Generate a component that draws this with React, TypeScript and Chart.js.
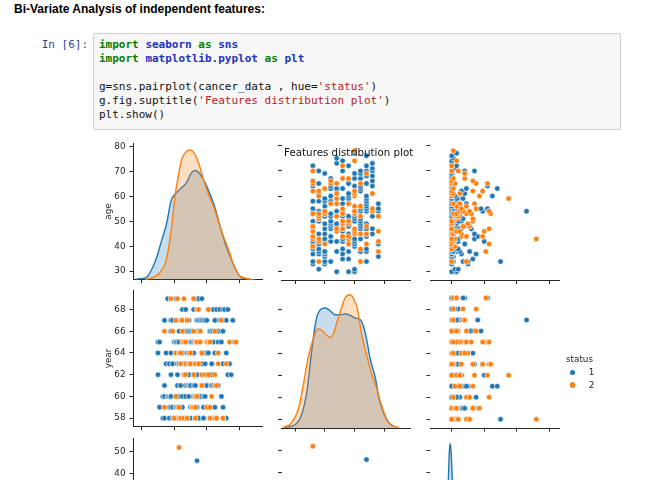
import React, { useEffect, useRef } from "react";
import { Chart, registerables } from "chart.js";

Chart.register(...registerables);
Chart.defaults.font.family = '"DejaVu Sans", sans-serif';

// ---------------- data (one entry per patient) ----------------
const age = [
  30, 30, 30,
  31, 31,
  33, 33,
  34, 34, 34, 34, 34, 34, 34,
  35, 35,
  36, 36,
  37, 37, 37, 37, 37, 37,
  38, 38, 38, 38, 38, 38, 38, 38, 38, 38,
  39, 39, 39, 39, 39, 39,
  40, 40, 40,
  41, 41, 41, 41, 41, 41, 41, 41, 41, 41,
  42, 42, 42, 42, 42, 42, 42, 42, 42,
  43, 43, 43, 43, 43, 43, 43, 43, 43, 43, 43,
  44, 44, 44, 44, 44, 44, 44,
  45, 45, 45, 45, 45, 45, 45, 45, 45,
  46, 46, 46, 46, 46, 46, 46,
  47, 47, 47, 47, 47, 47, 47, 47, 47, 47, 47,
  48, 48, 48, 48, 48, 48, 48,
  49, 49, 49, 49, 49, 49, 49, 49, 49, 49,
  50, 50, 50, 50, 50, 50, 50, 50, 50, 50, 50, 50,
  51, 51, 51, 51, 51, 51,
  52, 52, 52, 52, 52, 52, 52, 52, 52, 52, 52, 52, 52, 52,
  53, 53, 53, 53, 53, 53, 53, 53, 53, 53, 53,
  54, 54, 54, 54, 54, 54, 54, 54, 54, 54, 54, 54, 54,
  55, 55, 55, 55, 55, 55, 55, 55, 55, 55,
  56, 56, 56, 56, 56, 56, 56,
  57, 57, 57, 57, 57, 57, 57, 57, 57, 57, 57,
  58, 58, 58, 58, 58, 58, 58,
  59, 59, 59, 59, 59, 59, 59, 59,
  60, 60, 60, 60, 60, 60,
  61, 61, 61, 61, 61, 61, 61, 61, 61,
  62, 62, 62, 62, 62, 62, 62,
  63, 63, 63, 63, 63, 63, 63, 63,
  64, 64, 64, 64, 64,
  65, 65, 65, 65, 65, 65, 65, 65, 65, 65,
  66, 66, 66, 66, 66,
  67, 67, 67, 67, 67, 67,
  68, 68,
  69, 69, 69, 69,
  70, 70, 70, 70, 70, 70, 70,
  71,
  72, 72, 72, 72,
  73, 73,
  74, 74,
  75,
  76,
  77,
  78,
];

const year = [
  64, 62, 65,
  59, 65,
  58, 60,
  59, 66, 58, 60, 61, 67, 60,
  64, 63,
  60, 69,
  60, 63, 58, 59, 60, 63,
  69, 59, 60, 60, 62, 64, 66, 66, 60, 67,
  66, 63, 67, 58, 59, 63,
  58, 58, 65,
  60, 64, 67, 58, 59, 59, 64, 69, 65, 65,
  69, 59, 58, 60, 59, 61, 62, 65, 63,
  58, 59, 64, 64, 63, 64, 64, 60, 63, 65, 66,
  64, 58, 63, 61, 63, 61, 67,
  65, 66, 67, 60, 67, 59, 64, 68, 67,
  58, 69, 62, 65, 62, 58, 63,
  63, 62, 65, 61, 63, 66, 67, 58, 60, 68, 66,
  58, 58, 67, 61, 62, 64, 66,
  63, 64, 61, 62, 66, 60, 62, 63, 61, 67,
  63, 64, 59, 61, 61, 63, 58, 59, 61, 64, 65, 66,
  59, 59, 64, 59, 65, 66,
  69, 59, 62, 66, 61, 63, 69, 60, 60, 62, 62, 64, 65, 68,
  58, 65, 59, 60, 63, 65, 58, 60, 60, 61, 63,
  60, 65, 65, 68, 59, 60, 66, 67, 62, 69, 63, 58, 62,
  63, 68, 58, 58, 58, 66, 66, 69, 69, 67,
  65, 66, 60, 66, 66, 67, 60,
  61, 62, 64, 64, 69, 61, 62, 63, 64, 64, 67,
  59, 60, 61, 67, 58, 58, 61,
  62, 60, 63, 64, 64, 64, 64, 67,
  59, 65, 61, 67, 61, 64,
  62, 65, 68, 59, 59, 64, 65, 68, 59,
  59, 58, 65, 62, 66, 66, 58,
  60, 61, 62, 63, 63, 66, 61, 61,
  58, 65, 66, 61, 68,
  58, 61, 62, 66, 58, 64, 67, 59, 64, 67,
  58, 61, 58, 58, 68,
  64, 63, 66, 66, 61, 65,
  67, 68,
  67, 60, 65, 66,
  58, 58, 66, 67, 68, 59, 63,
  68,
  63, 58, 64, 67,
  62, 68,
  65, 63,
  62,
  67,
  65,
  65,
];

const nodes = [
  1, 3, 0,
  2, 4,
  10, 0,
  0, 9, 30, 1, 10, 7, 0,
  13, 0,
  1, 0,
  0, 0, 0, 6, 15, 0,
  21, 2, 0, 0, 3, 1, 0, 11, 1, 5,
  0, 0, 0, 0, 2, 4,
  2, 0, 0,
  23, 0, 0, 0, 8, 0, 0, 8, 0, 0,
  1, 0, 0, 1, 2, 4, 20, 0, 1,
  52, 2, 0, 0, 14, 2, 3, 0, 2, 0, 4,
  6, 9, 19, 0, 1, 0, 16,
  6, 0, 1, 0, 0, 14, 0, 0, 1,
  2, 3, 5, 20, 0, 3, 0,
  23, 0, 0, 0, 6, 0, 0, 3, 4, 4, 12,
  11, 11, 7, 8, 2, 0, 0,
  0, 10, 1, 0, 0, 1, 1, 3, 0, 1,
  13, 0, 0, 6, 0, 1, 1, 2, 0, 0, 4, 1,
  13, 3, 7, 1, 0, 1,
  3, 2, 3, 4, 0, 4, 0, 4, 5, 0, 1, 0, 0, 0,
  4, 1, 3, 9, 24, 12, 1, 1, 2, 1, 0,
  11, 23, 5, 7, 7, 3, 0, 46, 0, 7, 19, 1, 0,
  6, 15, 1, 0, 1, 18, 0, 3, 22, 1,
  9, 3, 0, 2, 1, 0, 0,
  5, 14, 1, 9, 0, 0, 0, 0, 0, 0, 0,
  0, 3, 1, 0, 0, 3, 2,
  35, 0, 0, 1, 4, 0, 7, 3,
  17, 0, 1, 2, 25, 0,
  5, 0, 1, 0, 0, 0, 8, 0, 0,
  13, 0, 19, 6, 0, 0, 0,
  1, 0, 0, 0, 0, 0, 9, 28,
  0, 22, 0, 0, 0,
  0, 2, 22, 15, 0, 0, 0, 2, 0, 1,
  0, 13, 0, 1, 0,
  8, 1, 0, 0, 0, 0,
  0, 0,
  8, 0, 0, 0,
  0, 4, 14, 0, 0, 8, 0,
  2,
  0, 0, 0, 3,
  0, 0,
  3, 0,
  1,
  0,
  3,
  1,
];

const status = [
  1, 1, 1,
  1, 1,
  1, 1,
  2, 2, 1, 1, 1, 1, 1,
  1, 1,
  1, 1,
  1, 1, 1, 1, 1, 1,
  2, 1, 1, 1, 1, 1, 1, 1, 1, 1,
  2, 1, 1, 1, 1, 1,
  2, 1, 1,
  2, 2, 2, 1, 1, 1, 1, 1, 1, 1,
  2, 2, 1, 1, 1, 1, 1, 1, 1,
  2, 2, 2, 2, 1, 1, 1, 1, 1, 1, 1,
  2, 2, 2, 1, 1, 1, 1,
  2, 2, 2, 1, 1, 1, 1, 1, 1,
  2, 2, 2, 2, 1, 1, 1,
  2, 2, 2, 1, 1, 1, 1, 1, 1, 1, 1,
  2, 2, 2, 1, 1, 1, 1,
  2, 2, 1, 1, 1, 1, 1, 1, 1, 1,
  2, 2, 1, 1, 1, 1, 1, 1, 1, 1, 1, 1,
  2, 2, 1, 1, 1, 1,
  2, 2, 2, 2, 1, 1, 1, 1, 1, 1, 1, 1, 1, 1,
  2, 2, 2, 2, 2, 2, 1, 1, 1, 1, 1,
  2, 2, 2, 2, 1, 1, 1, 1, 1, 1, 1, 1, 1,
  2, 2, 1, 1, 1, 1, 1, 1, 1, 1,
  2, 2, 1, 1, 1, 1, 1,
  2, 2, 2, 1, 1, 1, 1, 1, 1, 1, 1,
  1, 1, 1, 1, 1, 1, 1,
  2, 1, 1, 1, 1, 1, 1, 1,
  2, 2, 1, 1, 1, 1,
  2, 2, 2, 1, 1, 1, 1, 1, 1,
  2, 2, 2, 1, 1, 1, 1,
  2, 1, 1, 1, 1, 1, 1, 1,
  1, 1, 1, 1, 1,
  2, 2, 2, 2, 1, 1, 1, 1, 1, 1,
  2, 2, 1, 1, 1,
  2, 2, 1, 1, 1, 1,
  1, 1,
  2, 1, 1, 1,
  2, 2, 1, 1, 1, 1, 1,
  1,
  2, 1, 1, 1,
  1, 1,
  2, 1,
  1,
  1,
  1,
  2,
];

const statusLevels = [1, 2];
const featureNames = ["age", "year", "nodes"];

// tick values
const ageTicksX = [20, 40, 60, 80];
const ageTicksY = [30, 40, 50, 60, 70, 80];
const yearTicksX = [55, 60, 65, 70];
const yearTicksY = [58, 60, 62, 64, 66, 68];
const nodesTicksX = [0, 20, 40, 60];
const nodesTicksY = [0, 10, 20, 30, 40, 50];

// density curves (status 1 = blue, status 2 = orange)
const ageDensityX1 = [16.5, 17.5, 21, 23.5, 25, 29, 32, 35.5, 38, 40.5, 44.5, 47.5, 50.5, 53, 56, 59, 62, 65, 68, 71, 74.5, 77.5, 80.5, 84.5, 86];
const ageDensity1 = [0, 0.0002, 0.0003, 0.0008, 0.0017, 0.0054, 0.0096, 0.0146, 0.02, 0.0217, 0.0233, 0.0246, 0.0271, 0.0277, 0.0267, 0.0246, 0.0217, 0.0183, 0.0138, 0.0096, 0.0058, 0.0029, 0.0008, 0.0002, 0];
const ageDensityX2 = [22, 27, 31, 34.5, 36.5, 38.5, 40.5, 42.5, 44.5, 47.5, 49.5, 52, 55, 58, 61, 64, 67, 70, 73.5, 76.5, 79.5, 84.5, 89.5];
const ageDensity2 = [0, 0.0006, 0.0017, 0.0042, 0.0079, 0.0138, 0.0213, 0.0263, 0.0304, 0.0325, 0.0329, 0.0323, 0.0296, 0.0254, 0.0217, 0.0188, 0.015, 0.0113, 0.0075, 0.0038, 0.0013, 0.0003, 0];

const yearDensityX1 = [53.3, 55, 56.1, 57, 57.8, 58.4, 58.9, 60.1, 60.9, 61.7, 62.6, 63.4, 64.3, 65.1, 66, 66.5, 67.1, 67.6, 68.5, 69.1, 70, 70.8, 71.9];
const yearDensity1 = [0.0007, 0.0033, 0.0133, 0.0367, 0.0767, 0.1033, 0.115, 0.12, 0.1173, 0.1133, 0.1133, 0.114, 0.1127, 0.11, 0.1083, 0.1017, 0.0867, 0.07, 0.05, 0.03, 0.0133, 0.005, 0.0007];
const yearDensityX2 = [53, 54.4, 55.6, 56.4, 57.2, 58.1, 58.8, 59.5, 60.3, 60.9, 61.5, 62, 62.7, 63.4, 64.2, 64.8, 65.5, 66.2, 67.1, 67.9, 68.8, 69.4, 70.2, 71.1, 72.5];
const yearDensity2 = [0.0007, 0.005, 0.02, 0.0433, 0.07, 0.09, 0.099, 0.0977, 0.0927, 0.0907, 0.095, 0.105, 0.1183, 0.13, 0.1333, 0.13, 0.1183, 0.0933, 0.0717, 0.0533, 0.0383, 0.025, 0.0117, 0.0033, 0.0007];

const nodesDensityX1 = [-9, -6, -5, -4, -3, -2.1, -1.5, -0.9, -0.3, 0.4, 1.3, 2.3, 3.5, 5, 7, 10, 15, 20, 30, 46, 55, 62];
const nodesDensity1 = [0, 0.004, 0.016, 0.044, 0.09, 0.136, 0.176, 0.191, 0.176, 0.136, 0.09, 0.06, 0.04, 0.026, 0.016, 0.01, 0.006, 0.004, 0.0016, 0.0008, 0.0002, 0];
const nodesDensityX2 = [-12, -6, -3, 0, 2, 5, 10, 15, 20, 25, 35, 45, 55, 64];
const nodesDensity2 = [0, 0.01, 0.03, 0.048, 0.05, 0.04, 0.024, 0.016, 0.012, 0.008, 0.003, 0.002, 0.0012, 0];

// ---------------- styling / layout ----------------
const BLUE = "#1f77b4";
const ORANGE = "#ff7f0e";
const BLUE_FILL = "rgba(31,119,180,0.25)";
const ORANGE_FILL = "rgba(255,127,14,0.25)";
const INK = "#262626";
const TICK_FONT_SIZE = 8.8;

const colLeft = [133, 281.5, 430];
const colWidth = 129;
const rowTop = [142, 289.5, 437];
const rowHeight = 138.5;
const xRange = [[14.65, 93.95], [52.73, 74.4], [-13.34, 65.95]];
const yRange = [[26.5, 81.47], [57.21, 69.77], [-5.96, 56.14]];
const densityMax = [0.0346, 0.1385, 0.2];
const yTitleCenterX = 109;

const features = [age, year, nodes];
const ticksX = [ageTicksX, yearTicksX, nodesTicksX];
const ticksY = [ageTicksY, yearTicksY, nodesTicksY];
const densities = [
  [ageDensityX1, ageDensity1, ageDensityX2, ageDensity2],
  [yearDensityX1, yearDensity1, yearDensityX2, yearDensity2],
  [nodesDensityX1, nodesDensity1, nodesDensityX2, nodesDensity2],
];

function scatterSets(c: number, r: number) {
  return statusLevels.map((s, k) => {
    const pts: { x: number; y: number }[] = [];
    for (let i = 0; i < status.length; i++) {
      if (status[i] === s) pts.push({ x: features[c][i], y: features[r][i] });
    }
    return {
      type: "scatter",
      label: String(s),
      data: pts,
      xAxisID: "x",
      yAxisID: "y",
      pointRadius: 2.75,
      pointBorderWidth: 0.6,
      pointBackgroundColor: k ? ORANGE : BLUE,
      pointBorderColor: "#ffffff",
      order: k ? 1 : 2,
    };
  });
}

function kdeSets(v: number) {
  const [x1, y1, x2, y2] = densities[v];
  const mk = (xs: number[], ys: number[], line: string, fillCol: string, order: number) => ({
    type: "line",
    data: xs.map((x, i) => ({ x, y: ys[i] })),
    xAxisID: "x",
    yAxisID: "y2",
    borderColor: line,
    backgroundColor: fillCol,
    borderWidth: 1.4,
    fill: "origin",
    pointRadius: 0,
    cubicInterpolationMode: "monotone",
    order,
  });
  return [mk(x1, y1, BLUE, BLUE_FILL, 2), mk(x2, y2, ORANGE, ORANGE_FILL, 1)];
}

function Panel({ r, c }: { r: number; c: number }) {
  const ref = useRef<HTMLCanvasElement>(null);
  const left = colLeft[c];
  const top = rowTop[r];
  const showYLabels = c === 0;
  const showXLabels = r === 2;
  const baseL = showYLabels ? 44 : 6;
  const baseT = 8;
  const baseR = 8;
  const baseB = showXLabels ? 36 : 8;
  const cl = Math.floor(left - baseL);
  const ct = Math.floor(top - baseT);
  const padL = left - cl;
  const padT = top - ct;
  const cw = Math.ceil(padL + colWidth + baseR);
  const ch = Math.ceil(padT + rowHeight + baseB);
  const padR = cw - padL - colWidth;
  const padB = ch - padT - rowHeight;

  useEffect(() => {
    const tickFont = { family: '"DejaVu Sans", sans-serif', size: TICK_FONT_SIZE };
    const lineH = TICK_FONT_SIZE * 1.2;
    const datasets: any[] = r === c ? kdeSets(r) : scatterSets(c, r);
    const chart = new Chart(ref.current as HTMLCanvasElement, {
      type: "scatter",
      data: { datasets },
      options: {
        animation: false,
        responsive: false,
        maintainAspectRatio: false,
        events: [],
        layout: { padding: { left: 0, top: padT, right: padR, bottom: 0 } },
        plugins: { legend: { display: false }, tooltip: { enabled: false } },
        scales: {
          x: {
            type: "linear",
            position: "bottom",
            min: xRange[c][0],
            max: xRange[c][1],
            afterBuildTicks: (s: any) => {
              s.ticks = ticksX[c].map((v) => ({ value: v }));
            },
            afterFit: (s: any) => {
              s.height = padB;
            },
            grid: { display: true, drawOnChartArea: false, drawTicks: true, tickLength: 3.5, color: INK, lineWidth: 1 },
            border: { display: true, color: INK, width: 1 },
            ticks: { display: showXLabels, color: INK, font: tickFont, padding: 3, autoSkip: false, maxRotation: 0 },
            title: { display: showXLabels, text: featureNames[c], color: INK, font: tickFont, padding: { top: 0, bottom: 4 } },
          },
          y: {
            type: "linear",
            position: "left",
            min: yRange[r][0],
            max: yRange[r][1],
            afterBuildTicks: (s: any) => {
              s.ticks = ticksY[r].map((v) => ({ value: v }));
            },
            afterFit: (s: any) => {
              s.width = padL;
            },
            grid: { display: true, drawOnChartArea: false, drawTicks: true, tickLength: 3.5, color: INK, lineWidth: 1 },
            border: { display: c === 0, color: INK, width: 1 },
            ticks: { display: showYLabels, color: INK, font: tickFont, padding: 4, autoSkip: false },
            title: {
              display: showYLabels,
              text: featureNames[r],
              color: INK,
              font: tickFont,
              padding: { top: yTitleCenterX - cl - lineH / 2, bottom: 0 },
            },
          },
          y2: {
            type: "linear",
            position: "right",
            display: false,
            min: 0,
            max: densityMax[r],
          },
        },
      } as any,
    } as any);
    return () => chart.destroy();
  }, []);

  return (
    <canvas
      ref={ref}
      width={cw}
      height={ch}
      style={{ position: "absolute", left: cl, top: ct, width: cw, height: ch }}
    />
  );
}

const MONO = '"DejaVu Sans Mono", monospace';
const codeStyles: Record<string, React.CSSProperties> = {
  kw: { color: "#008000", fontWeight: "bold" },
  mod: { color: "#2233bb", fontWeight: "bold" },
  str: { color: "#ba2121" },
  t: { color: "#111111" },
};
const codeLines: [string, string][][] = [
  [["kw", "import"], ["t", " "], ["mod", "seaborn"], ["t", " "], ["kw", "as"], ["t", " "], ["mod", "sns"]],
  [["kw", "import"], ["t", " "], ["mod", "matplotlib.pyplot"], ["t", " "], ["kw", "as"], ["t", " "], ["mod", "plt"]],
  [],
  [["t", "g=sns.pairplot(cancer_data , hue="], ["str", "'status'"], ["t", ")"]],
  [["t", "g.fig.suptitle("], ["str", "'Features distribution plot'"], ["t", ")"]],
  [["t", "plt.show()"]],
];

export default function App() {
  const panels: JSX.Element[] = [];
  for (let r = 0; r < 3; r++) {
    for (let c = 0; c < 3; c++) panels.push(<Panel key={`${r}-${c}`} r={r} c={c} />);
  }
  return (
    <div
      style={{
        position: "absolute",
        left: 0,
        top: 0,
        width: 652,
        height: 480,
        overflow: "hidden",
        background: "#ffffff",
      }}
    >
      <div
        style={{
          position: "absolute",
          left: 14,
          top: 2.4,
          font: 'bold 12px/14px "Liberation Sans", Arial, sans-serif',
          color: "#000",
          whiteSpace: "nowrap",
        }}
      >
        Bi-Variate Analysis of independent features:
      </div>
      <div
        style={{
          position: "absolute",
          left: 20,
          width: 68,
          top: 38.4,
          textAlign: "right",
          font: `11px/14px ${MONO}`,
          color: "#303F9F",
          whiteSpace: "pre",
        }}
      >
        In [6]:
      </div>
      <div
        style={{
          position: "absolute",
          left: 93,
          top: 33,
          width: 528,
          height: 97,
          boxSizing: "border-box",
          border: "1px solid #cfcfcf",
          borderRadius: 2,
          background: "#f7f7f7",
        }}
      >
        <div style={{ position: "absolute", left: 5, top: 4.4, font: `11px/14px ${MONO}`, whiteSpace: "pre" }}>
          {codeLines.map((line, i) => (
            <div key={i} style={{ height: 14 }}>
              {line.map(([k, t], j) => (
                <span key={j} style={codeStyles[k]}>
                  {t}
                </span>
              ))}
            </div>
          ))}
        </div>
      </div>

      {panels}

      <div
        style={{
          position: "absolute",
          left: 248.7,
          width: 200,
          top: 146.4,
          textAlign: "center",
          font: '10.3px/12px "DejaVu Sans", sans-serif',
          color: "#111",
          whiteSpace: "nowrap",
        }}
      >
        Features distribution plot
      </div>

      <div style={{ position: "absolute", left: 566, top: 354.4, font: '8.8px/10px "DejaVu Sans", sans-serif', color: INK }}>
        status
      </div>
      {statusLevels.map((s, k) => (
        <React.Fragment key={s}>
          <div
            style={{
              position: "absolute",
              left: 572.7 - 2.7,
              top: 372.3 + k * 12.7 - 2.7,
              width: 5.4,
              height: 5.4,
              borderRadius: "50%",
              background: k ? ORANGE : BLUE,
            }}
          />
          <div
            style={{
              position: "absolute",
              left: 588.7,
              top: 367 + k * 13,
              font: '8.8px/10px "DejaVu Sans", sans-serif',
              color: INK,
            }}
          >
            {String(s)}
          </div>
        </React.Fragment>
      ))}
    </div>
  );
}
